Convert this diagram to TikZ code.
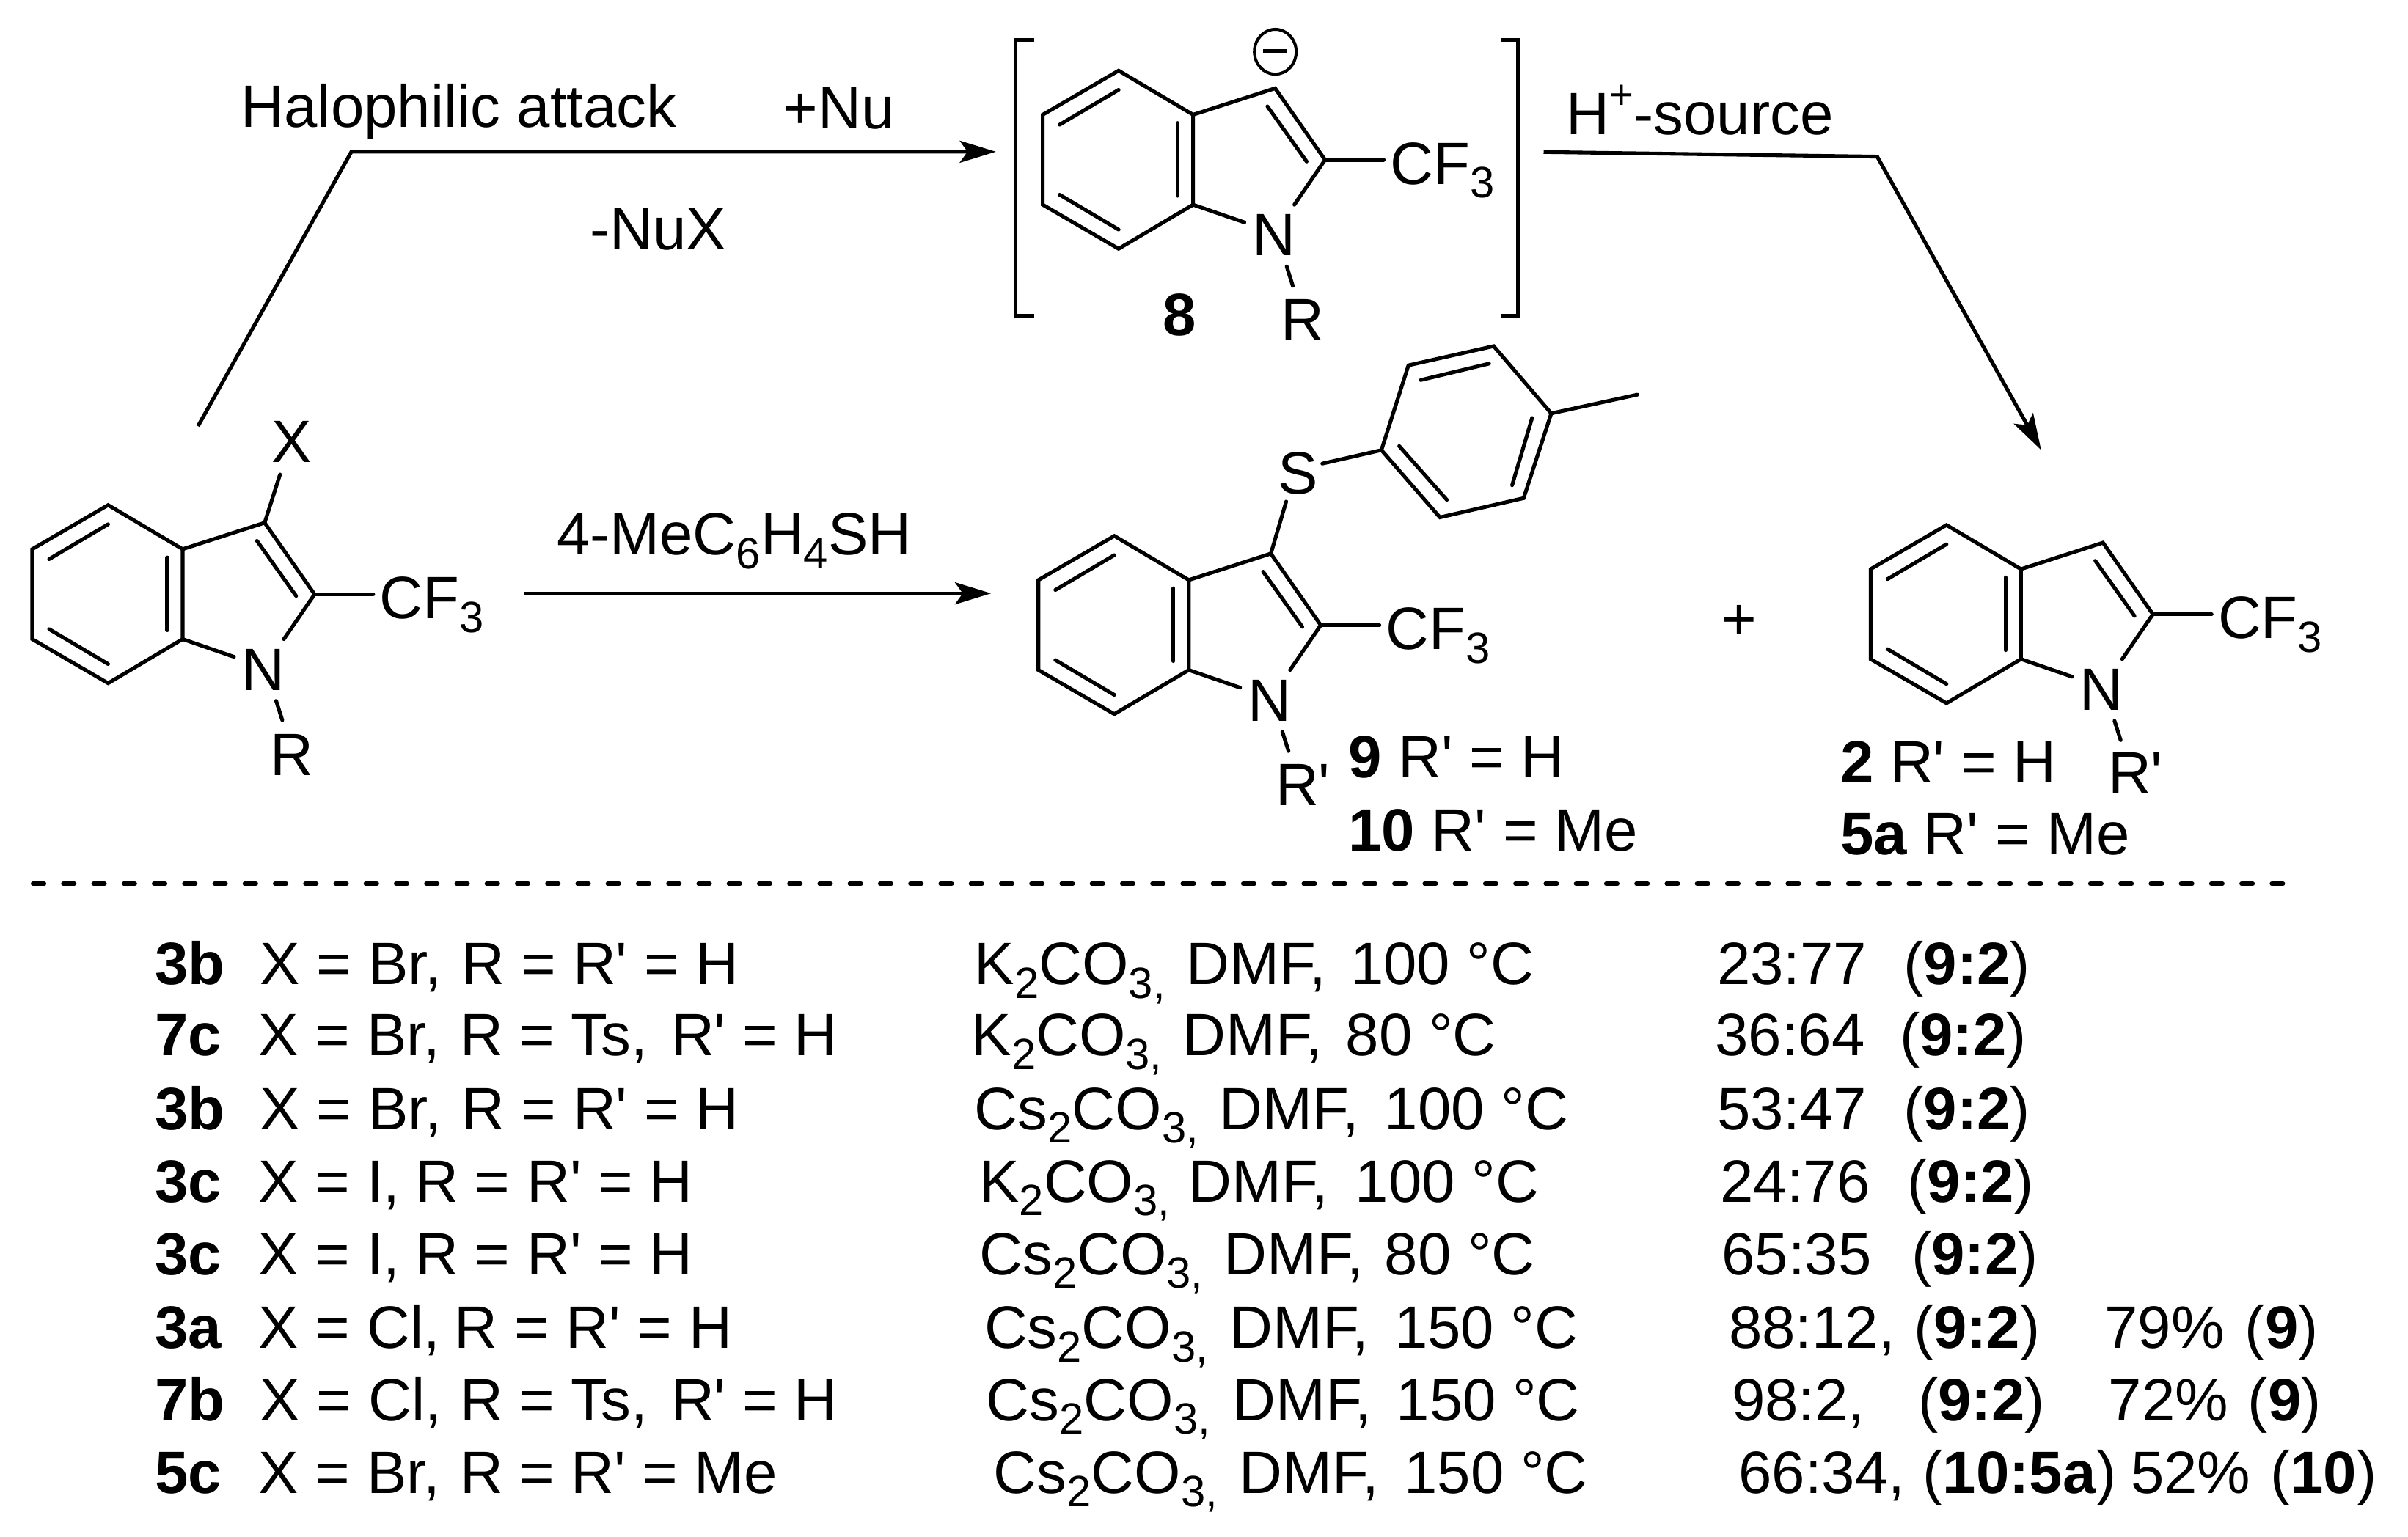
\documentclass[tikz,border=0pt]{standalone}
\usepackage{fontspec}
\setmainfont[Ligatures=TeXOff]{Liberation Sans}
\usetikzlibrary{arrows.meta,shapes.geometric}
\newcounter{tn}
\newcommand\subs[1]{\raisebox{-5.3pt}{\fontsize{17pt}{17pt}\selectfont #1}}
\newcommand\sups[1]{\raisebox{10pt}{\fontsize{16pt}{16pt}\selectfont #1}}
\tikzset{
  bond/.style={line width=1.45pt,line cap=round},
  rxn/.style={line width=1.45pt,-{Stealth[length=14pt,width=8.5pt,inset=3pt]}},
  lbl/.style={anchor=base west,inner sep=0pt,outer sep=0pt,font=\fontsize{23.2pt}{26pt}\selectfont},
  lblc/.style={lbl,anchor=base},
}
\newcommand\tx[3]{\stepcounter{tn}\node[lbl] (t\arabic{tn}) at (#1,#2) {#3};}
% indole skeleton: #1 name prefix, #2,#3 position of the top benzene atom
\newcommand\indole[3]{%
\begin{scope}[shift={(#2,#3)}]
  \coordinate (#1a) at (0,0);
  \coordinate (#1b) at (-49.4,28.7);
  \coordinate (#1c) at (-49.4,87.3);
  \coordinate (#1d) at (0,116);
  \coordinate (#1e) at (48.5,87.3);
  \coordinate (#1f) at (48.5,28.7);
  \coordinate (#1C3) at (101.9,11.5);
  \coordinate (#1C2) at (134.4,58.1);
  \coordinate (#1n1) at (81.9,98.8);
  \coordinate (#1n2) at (114.4,87.3);
  \coordinate (#1n3) at (109.4,127.5);
  \coordinate (#1n4) at (113.4,140.1);
  \coordinate (#1cf) at (172.6,58.1);
  \draw[bond] (#1a)--(#1b)--(#1c)--(#1d)--(#1e)--(#1f)--cycle;
  \draw[bond] (#1f)--(#1C3)--(#1C2)--(#1n2);
  \draw[bond] (#1e)--(#1n1);
  \draw[bond] (#1C2)--(#1cf);
  \draw[bond] (#1n3)--(#1n4);
  \draw[bond] (-38.4,35.2)--(0,12.5);
  \draw[bond] (-38.4,80.8)--(0,103.5);
  \draw[bond] (38.5,34.1)--(38.5,81.5);
  \draw[bond] (96.9,23.3)--(122.4,59.2);
  \node[lblc] (#1N) at (101,120.5) {N};
  \node[lbl] (#1CF) at (176.8,74) {CF\subs{3}};
\end{scope}}
\begin{document}
\begin{tikzpicture}[x=0.02094cm,y=-0.02094cm]
\fill[white] (0,0) rectangle (1567.8,1000.5);
\useasboundingbox (0,0) rectangle (1567.8,1000.5);

% molecules
\indole{A}{70.4}{328.9}
\indole{B}{728.3}{46}
\indole{C}{725.5}{349}
\indole{D}{1267.3}{341.9}

% starting material
\coordinate (Ax) at (182.3,309);
\draw[bond] (AC3)--(Ax);
\node[lblc] (AX) at (190,301) {X};
\node[lblc] (AR) at (190,505) {R};

% anion 8
\node[lblc] (BR) at (848,222) {R};
\node[lbl] (Blab) at (757,218.5) {\bfseries 8};
\node[draw,ellipse,line width=1.15pt,minimum width=16.2pt,minimum height=17.4pt,inner sep=0pt] (Bminus) at (830.3,33.7) {};
\coordinate (Bm1) at (822.3,33.4);
\coordinate (Bm2) at (838.2,33.4);
\draw[line width=1.4pt] (Bm1)--(Bm2);
\coordinate (Bl1) at (673.3,25.9);
\coordinate (Bl2) at (661.3,25.9);
\coordinate (Bl3) at (661.3,205.6);
\coordinate (Bl4) at (673.3,205.6);
\coordinate (Br1) at (977,25.9);
\coordinate (Br2) at (988.5,25.9);
\coordinate (Br3) at (988.5,205.6);
\coordinate (Br4) at (977,205.6);
\draw[bond,line cap=butt] (Bl1)--(Bl2)--(Bl3)--(Bl4);
\draw[bond,line cap=butt] (Br1)--(Br2)--(Br3)--(Br4);

% compound 9/10
\node[lblc] (CS) at (845,321.7) {S};
\coordinate (Cs1) at (837.4,326.6);
\draw[bond] (CC3)--(Cs1);
\coordinate (Cs2) at (860.9,301.9);
\coordinate (P1) at (899.4,293.1);
\coordinate (P2) at (917,237.9);
\coordinate (P3) at (972.5,225.4);
\coordinate (P4) at (1010,269.2);
\coordinate (P5) at (992,324.4);
\coordinate (P6) at (937.5,336.9);
\coordinate (Pme) at (1066,257);
\draw[bond] (Cs2)--(P1);
\draw[bond] (P1)--(P2)--(P3)--(P4)--(P5)--(P6)--cycle;
\draw[bond] (P4)--(Pme);
\draw[bond] (925,247.5)--(969.5,236.8);
\draw[bond] (997.5,272.2)--(984.5,316);
\draw[bond] (911,290.5)--(942,325.5);
\node[lbl] (CR) at (830.5,524.6) {R'};
\node[lbl] (Cl1) at (878,506.3) {\textbf{9} R' = H};
\node[lbl] (Cl2) at (878,554) {\textbf{10} R' = Me};

% plus
\node[lblc] (plus) at (1132.6,416.5) {+};

% compound 2/5a
\node[lbl] (DR) at (1372.5,517) {R'};
\node[lbl] (Dl1) at (1198.2,510) {\textbf{2} R' = H};
\node[lbl] (Dl2) at (1198.2,556.6) {\textbf{5a} R' = Me};

% arrows
\coordinate (a1) at (128.9,277.5);
\coordinate (a2) at (228.8,98.8);
\coordinate (a3) at (648.4,98.8);
\draw[rxn] (a1)--(a2)--(a3);
\coordinate (b1) at (341,386.4);
\coordinate (b2) at (645.3,386.4);
\draw[rxn] (b1)--(b2);
\coordinate (c1) at (1005,99);
\coordinate (c2) at (1222.2,102);
\coordinate (c3) at (1328.9,293);
\draw[rxn] (c1)--(c2)--(c3);

% arrow labels
\node[lbl] (h1) at (157,82.7) {Halophilic attack};
\node[lbl] (h2) at (510,83.7) {+Nu};
\node[lbl] (h3) at (384,162.8) {-NuX};
\node[lbl] (h4) at (362.5,361.2) {4-MeC\subs{6}H\subs{4}SH};
\node[lbl] (h5) at (1020,87.6) {H\sups{+}-source};

% dashed separator
\coordinate (d1) at (21.5,575.5);
\coordinate (d2) at (1487,575.5);
\draw[line width=1.7pt,line cap=round,dash pattern=on 4.3pt off 7.433pt] (d1)--(d2);

% table
\newcommand\KCO{K\subs{2}CO\subs{3,}}
\newcommand\CsCO{Cs\subs{2}CO\subs{3,}}
\newcommand\pr[1]{(\textbf{#1})}
% row 1
\tx{101}{641.3}{\bfseries 3b}\tx{169.5}{641.3}{X = Br,}\tx{300.5}{641.3}{R = R' = H}
\tx{634.6}{641.3}{\KCO}\tx{772.6}{641.3}{DMF,}\tx{879.3}{641.3}{100 °C}
\tx{1118}{641.3}{23:77}\tx{1239.6}{641.3}{\pr{9:2}}
% row 2
\tx{101}{687.6}{\bfseries 7c}\tx{168.5}{687.6}{X = Br,}\tx{299.5}{687.6}{R = Ts,}\tx{437}{687.6}{R' = H}
\tx{632.6}{687.6}{\KCO}\tx{770}{687.6}{DMF,}\tx{876.2}{687.6}{80 °C}
\tx{1116.7}{687.6}{36:64}\tx{1237}{687.6}{\pr{9:2}}
% row 3
\tx{101}{735.5}{\bfseries 3b}\tx{169.5}{735.5}{X = Br,}\tx{300.5}{735.5}{R = R' = H}
\tx{634.6}{735.5}{\CsCO}\tx{794}{735.5}{DMF,}\tx{901.5}{735.5}{100 °C}
\tx{1118}{735.5}{53:47}\tx{1239.6}{735.5}{\pr{9:2}}
% row 4
\tx{101}{782.8}{\bfseries 3c}\tx{168.5}{782.8}{X = I,}\tx{270.5}{782.8}{R = R' = H}
\tx{637.7}{782.8}{\KCO}\tx{774}{782.8}{DMF,}\tx{882.5}{782.8}{100 °C}
\tx{1120}{782.8}{24:76}\tx{1242}{782.8}{\pr{9:2}}
% row 5
\tx{101}{830}{\bfseries 3c}\tx{168.5}{830}{X = I,}\tx{270.5}{830}{R = R' = H}
\tx{637.7}{830}{\CsCO}\tx{797}{830}{DMF,}\tx{901.5}{830}{80 °C}
\tx{1121}{830}{65:35}\tx{1244.7}{830}{\pr{9:2}}
% row 6
\tx{101}{878}{\bfseries 3a}\tx{168.5}{878}{X = Cl,}\tx{296}{878}{R = R' = H}
\tx{640.9}{878}{\CsCO}\tx{800.5}{878}{DMF,}\tx{907.9}{878}{150 °C}
\tx{1125.6}{878}{88:12,}\tx{1246}{878}{\pr{9:2}}\tx{1370.3}{878}{79\%}\tx{1461.7}{878}{\pr{9}}
% row 7
\tx{101}{925}{\bfseries 7b}\tx{169.5}{925}{X = Cl,}\tx{299.5}{925}{R = Ts,}\tx{437}{925}{R' = H}
\tx{642.2}{925}{\CsCO}\tx{802.4}{925}{DMF,}\tx{909.1}{925}{150 °C}
\tx{1127.5}{925}{98:2,}\tx{1249}{925}{\pr{9:2}}\tx{1372.8}{925}{72\%}\tx{1463.6}{925}{\pr{9}}
% row 8
\tx{101}{972.3}{\bfseries 5c}\tx{168.5}{972.3}{X = Br,}\tx{299.5}{972.3}{R = R' = Me}
\tx{647}{972.3}{\CsCO}\tx{807}{972.3}{DMF,}\tx{914.2}{972.3}{150 °C}
\tx{1132}{972.3}{66:34,}\tx{1252}{972.3}{\pr{10:5a}}\tx{1387.4}{972.3}{52\%}\tx{1478.2}{972.3}{\pr{10}}
\end{tikzpicture}
\end{document}
